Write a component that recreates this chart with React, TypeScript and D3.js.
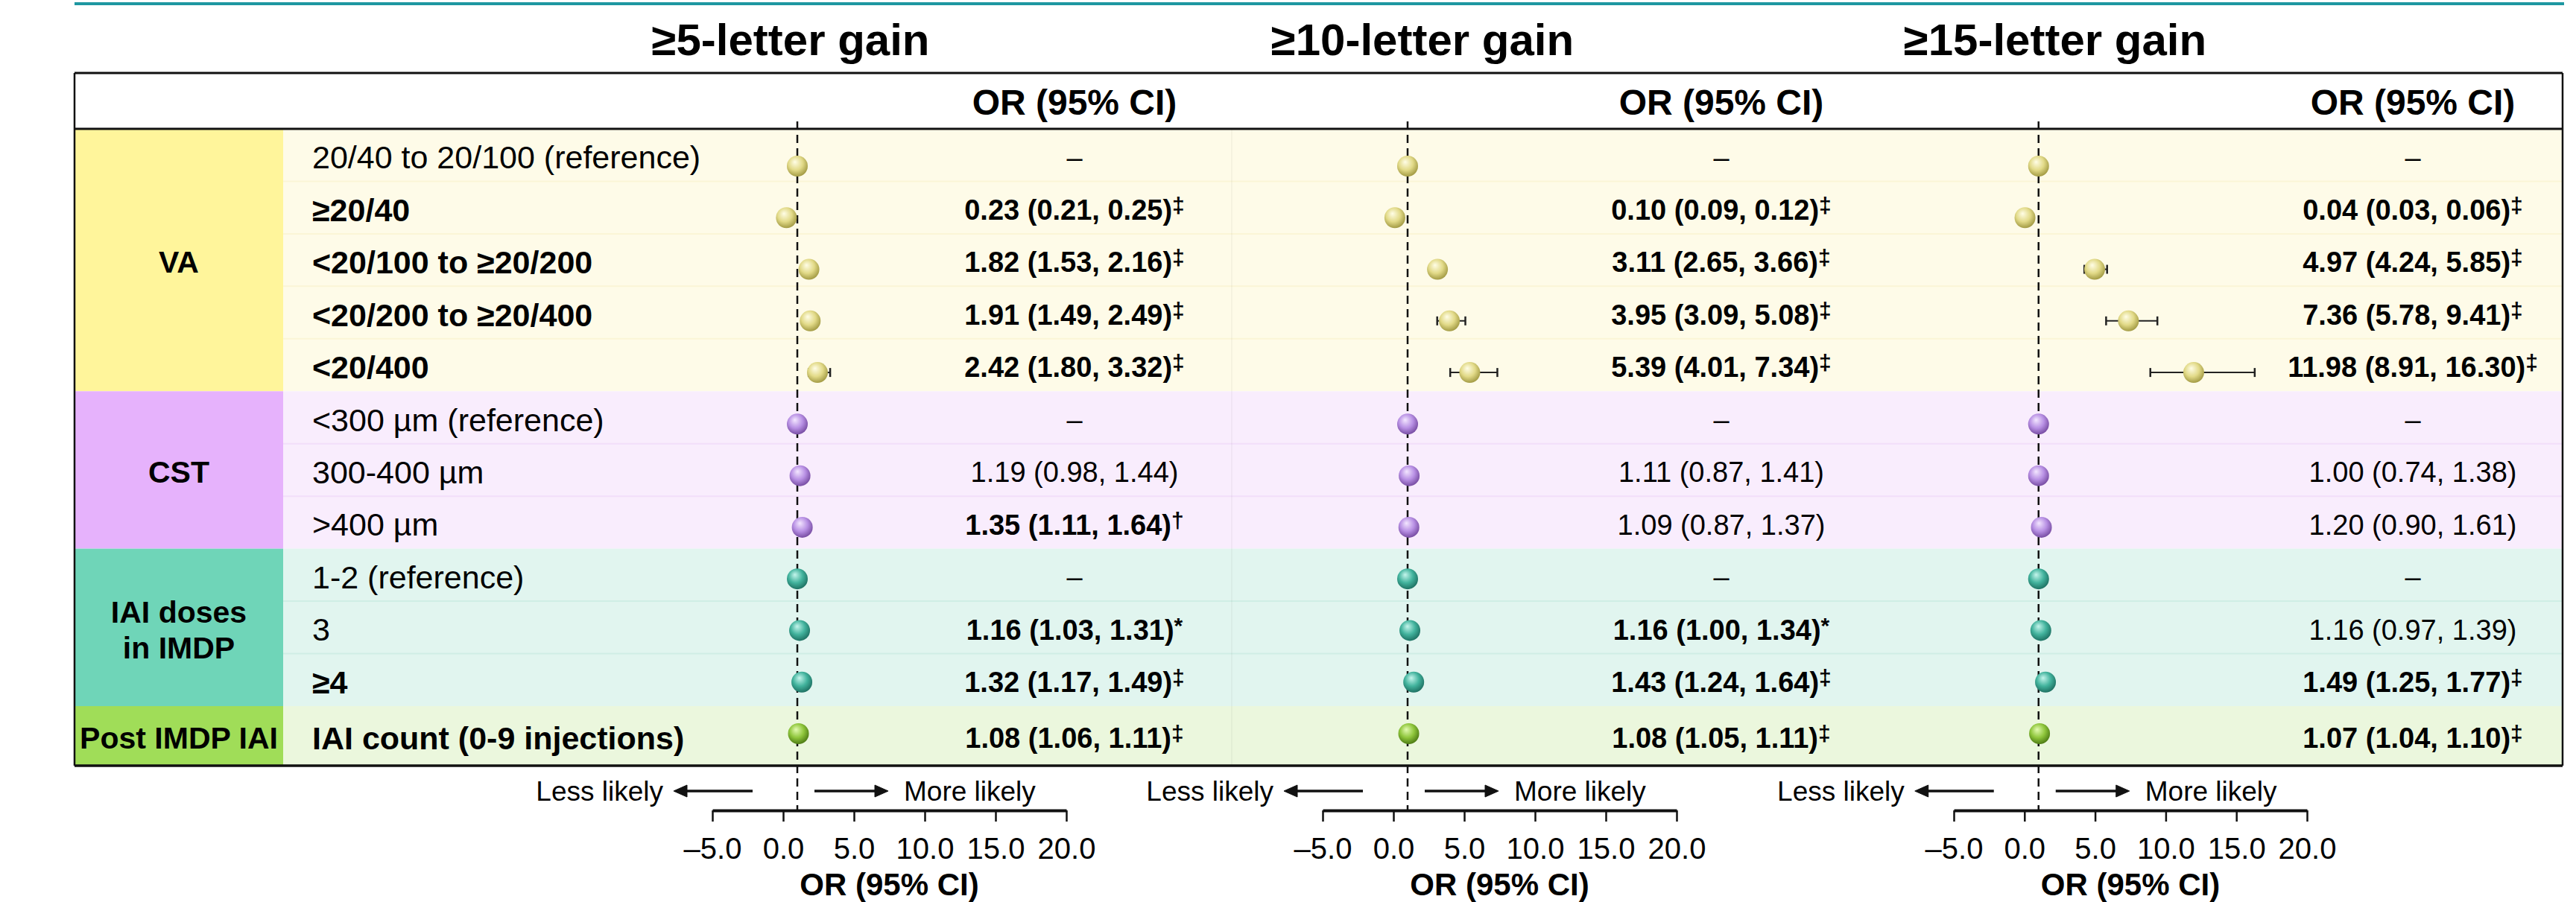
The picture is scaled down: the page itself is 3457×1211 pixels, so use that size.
import React, { useEffect, useRef } from "react";
import * as d3 from "d3";

// outcome panels
const outcomes = ["≥5-letter gain", "≥10-letter gain", "≥15-letter gain"];

// row groups
const groupLines = [["VA"], ["CST"], ["IAI doses", "in IMDP"], ["Post IMDP IAI"]];
const groupSizes = [5, 3, 3, 1];

const rowLabels = [
  "20/40 to 20/100 (reference)",
  "≥20/40",
  "<20/100 to ≥20/200",
  "<20/200 to ≥20/400",
  "<20/400",
  "<300 µm (reference)",
  "300-400 µm",
  ">400 µm",
  "1-2 (reference)",
  "3",
  "≥4",
  "IAI count (0-9 injections)",
];
const rowBold = [false, true, true, true, true, false, false, false, false, false, true, true];

// odds ratios, reference rows sit at 1 with no interval
const or5 = [1, 0.23, 1.82, 1.91, 2.42, 1, 1.19, 1.35, 1, 1.16, 1.32, 1.08];
const lo5 = [null, 0.21, 1.53, 1.49, 1.8, null, 0.98, 1.11, null, 1.03, 1.17, 1.06];
const hi5 = [null, 0.25, 2.16, 2.49, 3.32, null, 1.44, 1.64, null, 1.31, 1.49, 1.11];
const sig5 = ["", "‡", "‡", "‡", "‡", "", "", "†", "", "*", "‡", "‡"];

const or10 = [1, 0.1, 3.11, 3.95, 5.39, 1, 1.11, 1.09, 1, 1.16, 1.43, 1.08];
const lo10 = [null, 0.09, 2.65, 3.09, 4.01, null, 0.87, 0.87, null, 1.0, 1.24, 1.05];
const hi10 = [null, 0.12, 3.66, 5.08, 7.34, null, 1.41, 1.37, null, 1.34, 1.64, 1.11];
const sig10 = ["", "‡", "‡", "‡", "‡", "", "", "", "", "*", "‡", "‡"];

const or15 = [1, 0.04, 4.97, 7.36, 11.98, 1, 1.0, 1.2, 1, 1.16, 1.49, 1.07];
const lo15 = [null, 0.03, 4.24, 5.78, 8.91, null, 0.74, 0.9, null, 0.97, 1.25, 1.04];
const hi15 = [null, 0.06, 5.85, 9.41, 16.3, null, 1.38, 1.61, null, 1.39, 1.77, 1.1];
const sig15 = ["", "‡", "‡", "‡", "‡", "", "", "", "", "", "‡", "‡"];

const tickValues = [-5, 0, 5, 10, 15, 20];

const series = [
  { or: or5, lo: lo5, hi: hi5, sig: sig5 },
  { or: or10, lo: lo10, hi: hi10, sig: sig10 },
  { or: or15, lo: lo15, hi: hi15, sig: sig15 },
];

// layout
const W = 3457;
const H = 1211;
const boxL = 100;
const boxR = 3439;
const boxT = 98;
const headB = 173;
const bodyB = 1028;
const groupR = 380;
const labelX = 419;
const axisY = 1088;
const panels = [
  { title: 1061, range: [956, 1431], value: 1442 },
  { title: 1909, range: [1775, 2250], value: 2310 },
  { title: 2758, range: [2622, 3096], value: 3238 },
];

const groupFill = ["#fff59b", "#e6b2fc", "#6fd5b8", "#a0dd58"];
const rowFill = ["#fefbe8", "#f9edfd", "#e1f5ef", "#ebf7dd"];
const rowLine = ["#fbf5d6", "#f2defa", "#cfeee5", "#dff0cb"];
const dotStops = [
  ["#fffde6", "#e2da88", "#9f9740"],
  ["#f3e6ff", "#b890e4", "#74499f"],
  ["#c4f5ec", "#42b39d", "#1c6e60"],
  ["#e2fbb0", "#8fc63c", "#4a7812"],
];

const FONT = "'Liberation Sans', Arial, Helvetica, sans-serif";

const rowGroup: number[] = [];
groupSizes.forEach((n, g) => {
  for (let i = 0; i < n; i++) rowGroup.push(g);
});

const rowTop = d3.scaleLinear().domain([0, 11]).range([headB, 948]);
const rowBottom = (i: number) => (i === 11 ? bodyB : rowTop(i + 1));
const rowMid = (i: number) => (rowTop(i) + rowBottom(i)) / 2;
const dotY = d3.scalePoint<number>().domain(d3.range(12)).range([223, 985]);

const fmt = d3.format(".2f");

function Axis({ x }: { x: d3.ScaleLinear<number, number> }) {
  const ref = useRef<SVGGElement>(null);
  useEffect(() => {
    const g = d3.select(ref.current);
    g.call(
      d3
        .axisBottom(x)
        .tickValues(tickValues)
        .tickFormat((d) => d3.format(".1f")(d as number).replace("−", "–"))
        .tickSize(15)
        .tickSizeOuter(0)
        .tickPadding(22)
    );
    g.select(".domain").attr("stroke", "#111").attr("stroke-width", 4);
    g.selectAll(".tick line").attr("stroke", "#111").attr("stroke-width", 2.5);
    g.selectAll(".tick text")
      .attr("fill", "#000")
      .style("font-size", "40px")
      .style("font-family", FONT);
  }, [x]);
  return <g ref={ref} transform={`translate(0,${axisY})`} />;
}

function Panel({ p }: { p: number }) {
  const lay = panels[p];
  const s = series[p];
  const x = d3.scaleLinear().domain([-5, 20]).range(lay.range);
  const x1 = x(1);
  const cx = (lay.range[0] + lay.range[1]) / 2;
  return (
    <g>
      <text x={lay.title} y={74} textAnchor="middle" fontSize={60} fontWeight="bold">
        {outcomes[p]}
      </text>
      <text x={lay.value} y={137} dy="0.35em" textAnchor="middle" fontSize={48} fontWeight="bold">
        OR (95% CI)
      </text>
      <line x1={x1} x2={x1} y1={163} y2={axisY} stroke="#111" strokeWidth={2.5} strokeDasharray="11 7" />
      {s.or.map((v, i) => {
        const y = dotY(i) as number;
        const lo = s.lo[i];
        const hi = s.hi[i];
        return (
          <g key={i}>
            {lo != null && hi != null && (
              <g stroke="#222">
                <line x1={x(lo)} x2={x(hi)} y1={y} y2={y} strokeWidth={2} />
                <line x1={x(lo)} x2={x(lo)} y1={y - 6} y2={y + 6} strokeWidth={2.5} />
                <line x1={x(hi)} x2={x(hi)} y1={y - 6} y2={y + 6} strokeWidth={2.5} />
              </g>
            )}
            <circle cx={x(v)} cy={y} r={14} fill={`url(#dot-${rowGroup[i]})`} />
          </g>
        );
      })}
      {s.or.map((v, i) => {
        const lo = s.lo[i];
        const hi = s.hi[i];
        const y = rowMid(i) + 3;
        if (lo == null || hi == null) {
          return (
            <text key={i} x={lay.value} y={y} dy="0.35em" textAnchor="middle" fontSize={38}>
              –
            </text>
          );
        }
        const bold = s.sig[i] !== "";
        return (
          <text
            key={i}
            x={lay.value}
            y={y}
            dy="0.35em"
            textAnchor="middle"
            fontSize={38}
            fontWeight={bold ? "bold" : "normal"}
          >
            {`${fmt(v)} (${fmt(lo)}, ${fmt(hi)})`}
            {bold && (
              <tspan fontSize={30} dy={-9}>
                {s.sig[i]}
              </tspan>
            )}
          </text>
        );
      })}
      <Axis x={x} />
      <text x={cx} y={1202} textAnchor="middle" fontSize={42} fontWeight="bold">
        OR (95% CI)
      </text>
      <g fontSize={37}>
        <text x={x1 - 180} y={1075} textAnchor="end">
          Less likely
        </text>
        <text x={x1 + 143} y={1075}>
          More likely
        </text>
      </g>
      <g fill="#111" stroke="#111">
        <line x1={x1 - 60} x2={x1 - 150} y1={1062} y2={1062} strokeWidth={3.5} />
        <path d={`M${x1 - 166},1062 L${x1 - 148},1054 L${x1 - 148},1070 Z`} strokeWidth={1} />
        <line x1={x1 + 23} x2={x1 + 106} y1={1062} y2={1062} strokeWidth={3.5} />
        <path d={`M${x1 + 122},1062 L${x1 + 104},1054 L${x1 + 104},1070 Z`} strokeWidth={1} />
      </g>
    </g>
  );
}

export default function App() {
  let start = 0;
  const groupSpans = groupSizes.map((n) => {
    const span = { first: start, last: start + n - 1 };
    start += n;
    return span;
  });

  return (
    <div style={{ position: "absolute", left: 0, top: 0 }}>
      <svg width={W} height={H} style={{ display: "block", background: "#fff" }} fontFamily={FONT}>
        <defs>
          {dotStops.map((st, g) => (
            <radialGradient key={g} id={`dot-${g}`} cx="45%" cy="40%" r="62%" fx="38%" fy="30%">
              <stop offset="0%" stopColor={st[0]} />
              <stop offset="55%" stopColor={st[1]} />
              <stop offset="100%" stopColor={st[2]} />
            </radialGradient>
          ))}
        </defs>

        <line x1={boxL} x2={3441} y1={5} y2={5} stroke="#1e97a1" strokeWidth={4} />

        {/* row backgrounds */}
        {rowLabels.map((_, i) => (
          <rect
            key={i}
            x={groupR}
            y={rowTop(i)}
            width={boxR - groupR}
            height={rowBottom(i) - rowTop(i)}
            fill={rowFill[rowGroup[i]]}
          />
        ))}
        {rowLabels.map((_, i) =>
          i > 0 && rowGroup[i] === rowGroup[i - 1] ? (
            <line
              key={i}
              x1={groupR}
              x2={boxR}
              y1={rowTop(i)}
              y2={rowTop(i)}
              stroke={rowLine[rowGroup[i]]}
              strokeWidth={2}
            />
          ) : null
        )}
        <line x1={1653} x2={1653} y1={headB} y2={bodyB} stroke="#000" strokeOpacity={0.035} strokeWidth={2} />

        {/* group label cells */}
        {groupSpans.map((sp, g) => {
          const y0 = rowTop(sp.first);
          const y1 = rowBottom(sp.last);
          const mid = (y0 + y1) / 2;
          const lines = groupLines[g];
          return (
            <g key={g}>
              <rect x={boxL} y={y0} width={groupR - boxL} height={y1 - y0} fill={groupFill[g]} />
              {lines.map((t, j) => (
                <text
                  key={j}
                  x={(boxL + groupR) / 2}
                  y={mid + 3 + (j - (lines.length - 1) / 2) * 48}
                  dy="0.35em"
                  textAnchor="middle"
                  fontSize={41}
                  fontWeight="bold"
                >
                  {t}
                </text>
              ))}
            </g>
          );
        })}

        {rowLabels.map((t, i) => (
          <text
            key={i}
            x={labelX}
            y={rowMid(i) + 3}
            dy="0.35em"
            fontSize={43}
            fontWeight={rowBold[i] ? "bold" : "normal"}
          >
            {t}
          </text>
        ))}

        {/* table frame */}
        <g stroke="#111" fill="none">
          <line x1={boxL} x2={boxR} y1={boxT} y2={boxT} strokeWidth={3} />
          <line x1={boxL} x2={boxR} y1={headB} y2={headB} strokeWidth={3} />
          <line x1={boxL} x2={boxR} y1={bodyB} y2={bodyB} strokeWidth={3.5} />
          <line x1={boxL} x2={boxL} y1={boxT} y2={bodyB} strokeWidth={2.5} />
          <line x1={boxR} x2={boxR} y1={boxT} y2={bodyB} strokeWidth={2.5} />
        </g>

        {outcomes.map((_, p) => (
          <Panel key={p} p={p} />
        ))}
      </svg>
    </div>
  );
}
